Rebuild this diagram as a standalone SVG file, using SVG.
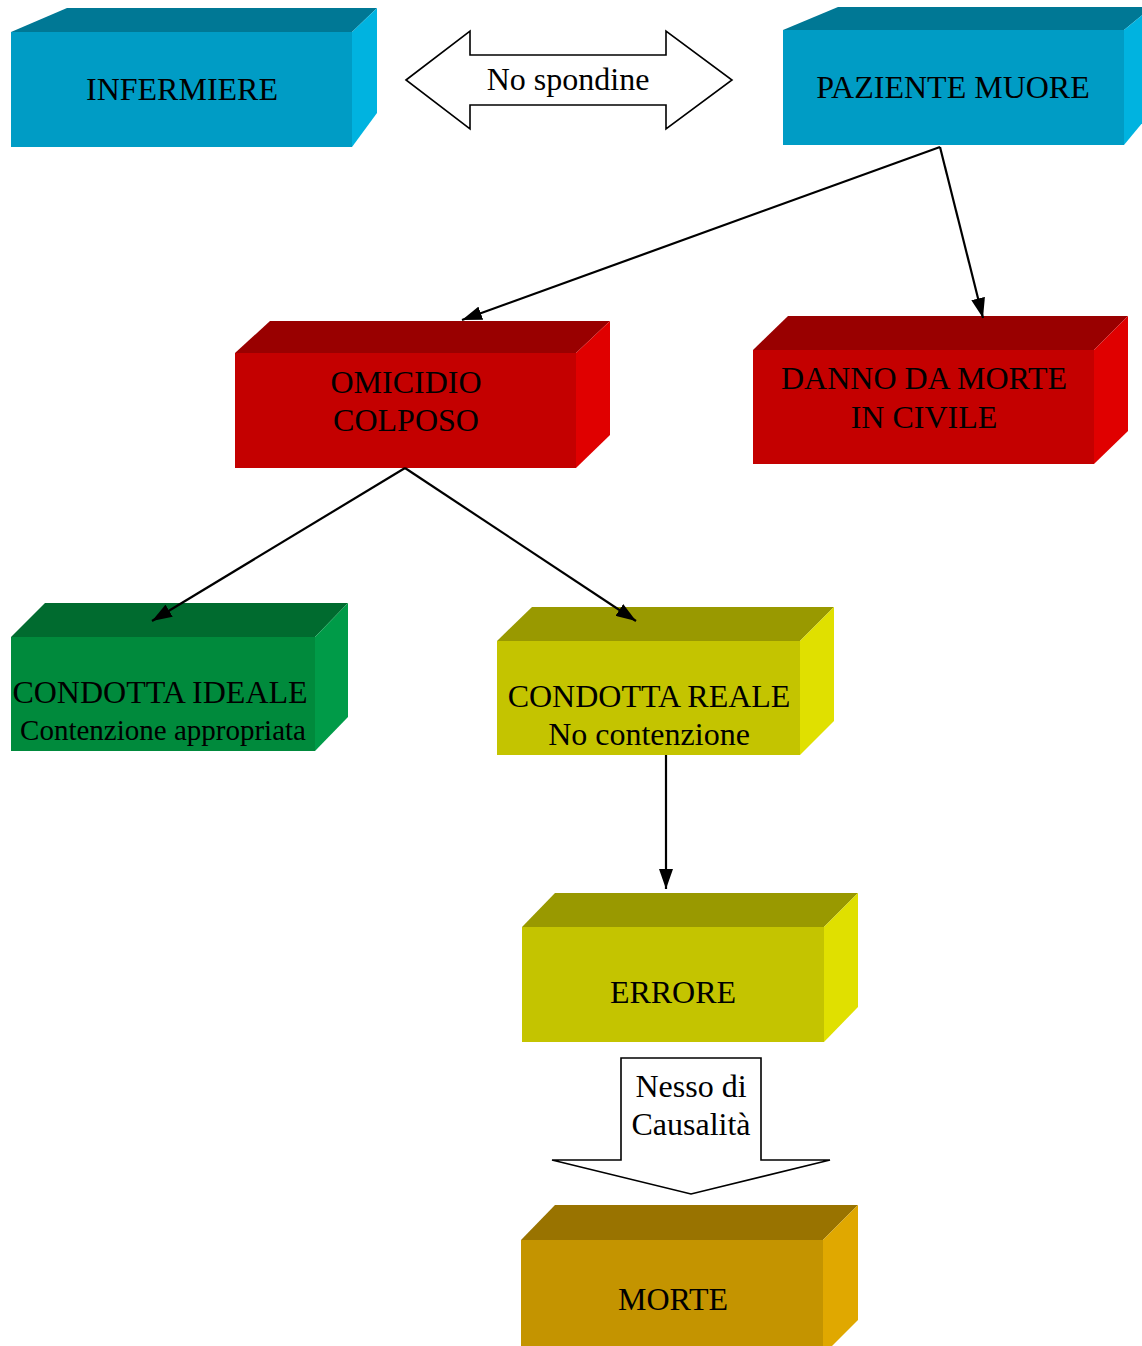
<svg xmlns="http://www.w3.org/2000/svg" width="1142" height="1346" viewBox="0 0 1142 1346">
<style>
text{font-family:"Liberation Serif","Times New Roman",serif;fill:#000;text-anchor:middle;font-size:32px}
.con{stroke:#000;stroke-width:2.2;fill:none;marker-end:url(#ah)}
.blk{fill:#fff;stroke:#000;stroke-width:1.6}
.bf{fill:#009CC5}.bt{fill:#007895}.bs{fill:#00B3E0}
.rf{fill:#C40000}.rt{fill:#990000}.rs{fill:#E00000}
.gf{fill:#008A3C}.gt{fill:#006B2F}.gs{fill:#009B48}
.yf{fill:#C4C400}.yt{fill:#999900}.ys{fill:#E0E000}
.of{fill:#C49400}.ot{fill:#997300}.os{fill:#E0A800}
</style>
<defs>
<marker id="ah" viewBox="0 0 20 14" refX="20" refY="7" markerWidth="20" markerHeight="14" markerUnits="userSpaceOnUse" orient="auto">
<path d="M0,0 L20,7 L0,14 z" fill="#000"/>
</marker>
</defs>
<g id="infermiere">
<polygon class="bt" points="11,32 67,8 377,8 352,32"/>
<polygon class="bs" points="352,32 377,8 377,113 352,147"/>
<rect class="bf" x="11" y="32" width="341" height="115"/>
<text x="182" y="100">INFERMIERE</text>
</g>
<g id="no-spondine">
<polygon class="blk" points="406,80 470,31 470,55 666,55 666,31 732,80 666,129 666,105 470,105 470,129"/>
<text x="568" y="90">No spondine</text>
</g>
<g id="paziente-muore">
<polygon class="bt" points="783,30 838,7 1152,7 1124,30"/>
<polygon class="bs" points="1124,30 1152,7 1152,111 1124,145"/>
<rect class="bf" x="783" y="30" width="341" height="115"/>
<text x="953" y="98">PAZIENTE MUORE</text>
</g>
<g id="omicidio-colposo">
<polygon class="rt" points="235,353 270,321 610,321 576,353"/>
<polygon class="rs" points="576,353 610,321 610,435 576,468"/>
<rect class="rf" x="235" y="353" width="341" height="115"/>
<text x="406" y="393">OMICIDIO</text>
<text x="406" y="431">COLPOSO</text>
</g>
<g id="danno-morte">
<polygon class="rt" points="753,350 788,316 1128,316 1094,350"/>
<polygon class="rs" points="1094,350 1128,316 1128,431 1094,464"/>
<rect class="rf" x="753" y="350" width="341" height="114"/>
<text x="924" y="389">DANNO DA MORTE</text>
<text x="924" y="428">IN CIVILE</text>
</g>
<g id="condotta-ideale">
<polygon class="gt" points="11,637 45,603 348,603 315,637"/>
<polygon class="gs" points="315,637 348,603 348,717 315,751"/>
<rect class="gf" x="11" y="637" width="304" height="114"/>
<text x="160" y="703">CONDOTTA IDEALE</text>
<text x="163" y="740" style="font-size:29px">Contenzione appropriata</text>
</g>
<g id="condotta-reale">
<polygon class="yt" points="497,641 532,607 834,607 800,641"/>
<polygon class="ys" points="800,641 834,607 834,721 800,755"/>
<rect class="yf" x="497" y="641" width="303" height="114"/>
<text x="649" y="707">CONDOTTA REALE</text>
<text x="649" y="745">No contenzione</text>
</g>
<g id="errore">
<polygon class="yt" points="522,927 555,893 858,893 824,927"/>
<polygon class="ys" points="824,927 858,893 858,1007 824,1042"/>
<rect class="yf" x="522" y="927" width="302" height="115"/>
<text x="673" y="1003">ERRORE</text>
</g>
<g id="nesso-causalita">
<polygon class="blk" points="621,1058 761,1058 761,1160 830,1160 691,1194 552,1160 621,1160"/>
<text x="691" y="1097">Nesso di</text>
<text x="691" y="1135">Causalità</text>
</g>
<g id="morte">
<polygon class="ot" points="521,1240 555,1205 858,1205 823,1240"/>
<polygon class="os" points="823,1240 858,1205 858,1320 823,1355"/>
<rect class="of" x="521" y="1240" width="302" height="115"/>
<text x="673" y="1310">MORTE</text>
</g>
<g id="connectors">
<line class="con" x1="940" y1="147" x2="462" y2="320"/>
<line class="con" x1="940" y1="147" x2="983" y2="318"/>
<line class="con" x1="405" y1="468" x2="152" y2="621"/>
<line class="con" x1="405" y1="468" x2="636" y2="621"/>
<line class="con" x1="666" y1="755" x2="666" y2="889"/>
</g>
</svg>
